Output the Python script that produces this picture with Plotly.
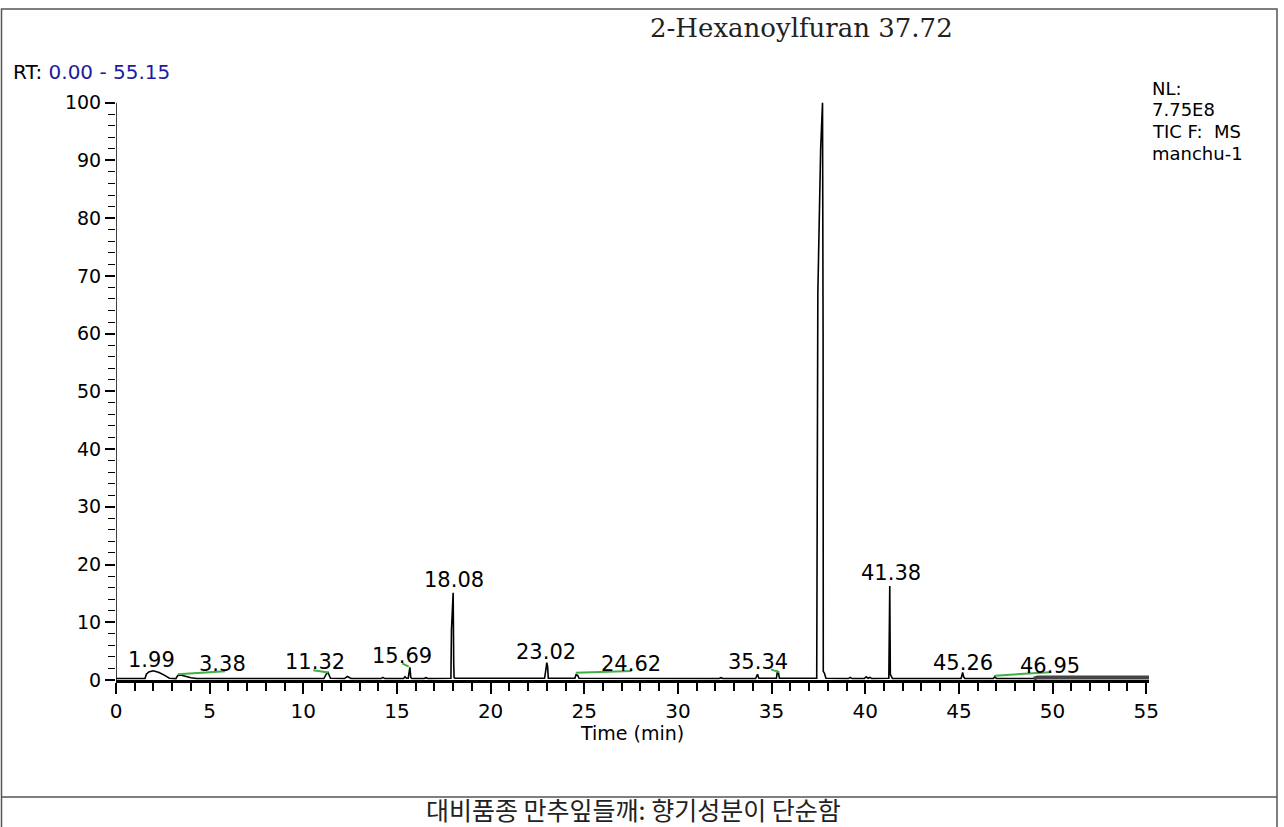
import plotly.graph_objects as go

# ---------------- data ----------------
time = [0.0, 1.55, 1.62, 1.75, 1.99, 2.3, 2.6, 2.85, 3.2, 3.3, 3.45, 3.7, 4.0, 4.3,
        11.1, 11.22, 11.32, 11.45, 12.2, 12.35, 12.55, 14.15, 14.25, 14.35,
        15.35, 15.43, 15.5, 15.6, 15.65, 15.69, 15.74, 15.8, 16.45, 16.55, 16.65,
        17.88, 17.91, 18.0, 18.03, 18.05, 18.1,
        22.88, 22.95, 23.0, 23.04, 23.08, 24.5, 24.56, 24.65, 24.72,
        32.2, 32.3, 32.4, 34.15, 34.25, 34.32, 35.26, 35.31, 35.36, 35.42,
        37.41, 37.43, 37.47, 37.62, 37.72, 37.75, 37.76, 37.82, 37.9,
        39.1, 39.2, 39.3, 39.95, 40.05, 40.15, 40.25, 40.35,
        41.26, 41.31, 41.34, 41.38, 41.45, 45.12, 45.2, 45.26, 45.32,
        46.85, 46.92, 47.0, 49.0, 49.2, 55.15]
intensity = [0.25, 0.25, 1.0, 1.4, 1.6, 1.3, 0.8, 0.3, 0.25, 0.8, 0.85, 0.6, 0.4, 0.25,
             0.25, 1.0, 1.3, 0.3, 0.25, 0.6, 0.25, 0.25, 0.45, 0.25,
             0.25, 0.55, 0.3, 0.3, 2.1, 2.2, 0.4, 0.25, 0.25, 0.4, 0.25,
             0.3, 8.7, 15.1, 3.0, 0.4, 0.3,
             0.3, 1.8, 3.0, 2.4, 0.3, 0.3, 0.9, 0.8, 0.3,
             0.25, 0.4, 0.25, 0.25, 1.0, 0.3, 0.3, 1.5, 1.4, 0.3,
             0.3, 20.0, 67.0, 92.0, 100.0, 60.0, 1.5, 1.2, 0.3,
             0.25, 0.45, 0.25, 0.25, 0.55, 0.3, 0.45, 0.25,
             0.3, 16.3, 1.0, 0.6, 0.25, 0.25, 1.3, 0.5, 0.25,
             0.25, 0.6, 0.25, 0.25, 0.45, 0.45]

# baseline (integration) marks drawn in green: start/end time and level
green_t0 = [3.30, 10.53, 15.28, 24.55, 34.97, 46.91]
green_v0 = [1.0, 1.7, 2.9, 1.27, 1.85, 0.75]
green_t1 = [5.83, 11.34, 15.63, 27.52, 35.42, 49.85]
green_v1 = [1.5, 1.3, 2.3, 1.56, 1.33, 1.33]

# peak labels: text and where the label text sits
label_text = ["1.99", "3.38", "11.32", "15.69", "18.08", "23.02", "24.62",
              "35.34", "37.72", "41.38", "45.26", "46.95"]
label_t = [1.87, 5.67, 10.62, 15.28, 18.05, 22.94, 27.47, 34.28, 37.70, 41.39, 45.22, 49.86]
label_v = [3.4, 2.8, 3.2, 4.2, 17.3, 4.9, 2.7, 3.1, 102.3, 18.5, 3.0, 2.4]

x_ticks = [0, 5, 10, 15, 20, 25, 30, 35, 40, 45, 50, 55]
y_ticks = [0, 10, 20, 30, 40, 50, 60, 70, 80, 90, 100]
x_range = [0.0, 55.15]
band_start = 49.0

# ---------------- layout geometry ----------------
W, H = 1284, 827
ML, MR, MT, MB = 116, 135, 94, 147
PW, PH = W - ML - MR, H - MT - MB


def px(p):
    """picture x pixel -> paper coordinate"""
    return (p - ML) / PW


def py(p):
    """picture y pixel -> paper coordinate"""
    return (H - MB - p) / PH


fig = go.Figure()

fig.add_trace(go.Scatter(x=time, y=intensity, mode="lines",
                         line=dict(color="black", width=1.6), hoverinfo="skip",
                         showlegend=False))
bt = [t for t in time if t >= band_start]
bv = [v for t, v in zip(time, intensity) if t >= band_start]
fig.add_trace(go.Scatter(x=bt, y=bv, mode="lines", hoverinfo="skip",
                         line=dict(color="#444444", width=4), showlegend=False))

gx, gy = [], []
for a, b, c, d in zip(green_t0, green_v0, green_t1, green_v1):
    gx += [a, c, None]
    gy += [b, d, None]
fig.add_trace(go.Scatter(x=gx, y=gy, mode="lines", hoverinfo="skip",
                         line=dict(color="#3cb043", width=2), showlegend=False))

annotations = []
for txt, t, v in zip(label_text, label_t, label_v):
    annotations.append(dict(x=t, y=v, xref="x", yref="y", text=txt, showarrow=False,
                            xanchor="center", yanchor="middle",
                            font=dict(family="DejaVu Sans", size=21, color="black")))

annotations.append(dict(x=px(801), y=py(28), xref="paper", yref="paper",
                        text="2-Hexanoylfuran 37.72", showarrow=False,
                        xanchor="center", yanchor="middle",
                        font=dict(family="DejaVu Serif", size=26, color="#222222")))
annotations.append(dict(x=px(11), y=py(72), xref="paper", yref="paper",
                        text="RT: <span style='color:#1c1ca0'>0.00 - 55.15</span>",
                        showarrow=False, xanchor="left", yanchor="middle",
                        font=dict(family="DejaVu Sans", size=20, color="black")))
for txt, yy in zip(["NL:", "7.75E8", "TIC F:  MS", "manchu-1"], [88, 109, 132, 153]):
    annotations.append(dict(x=px(1150), y=py(yy), xref="paper", yref="paper",
                            text=txt.replace("  ", "&nbsp;&nbsp;"), showarrow=False,
                            xanchor="left", yanchor="middle",
                            font=dict(family="DejaVu Sans", size=18, color="black")))
annotations.append(dict(x=px(632), y=py(733), xref="paper", yref="paper",
                        text="Time (min)", showarrow=False,
                        xanchor="center", yanchor="middle",
                        font=dict(family="DejaVu Sans", size=19, color="black")))
annotations.append(dict(x=px(633), y=py(809), xref="paper", yref="paper",
                        text="대비품종 만추잎들깨: 향기성분이 단순함", showarrow=False,
                        xanchor="center", yanchor="middle",
                        font=dict(family="Noto Sans CJK KR", size=25, color="#222222")))

shapes = [
    # outer frame
    dict(type="rect", xref="paper", yref="paper", x0=px(1.5), x1=px(1277),
         y0=py(860), y1=py(9), line=dict(color="#555555", width=1.5)),
    dict(type="line", xref="paper", yref="paper", x0=px(1.5), x1=px(1277),
         y0=py(797), y1=py(797), line=dict(color="#555555", width=1.5)),
    # y axis line
    dict(type="line", xref="x", yref="y", x0=0, x1=0, y0=0, y1=100,
         line=dict(color="black", width=1.5)),
]

fig.update_layout(
    width=W, height=H,
    margin=dict(l=ML, r=MR, t=MT, b=MB),
    paper_bgcolor="white", plot_bgcolor="white",
    annotations=annotations, shapes=shapes,
    xaxis=dict(range=x_range, tickvals=x_ticks, ticktext=[str(v) for v in x_ticks],
               showgrid=False, zeroline=False, showline=True, linecolor="black",
               linewidth=2.5, ticks="outside", ticklen=11, tickwidth=1.5,
               tickcolor="black",
               minor=dict(dtick=1, tick0=0, ticks="outside", ticklen=8,
                          tickwidth=1.5, tickcolor="black", showgrid=False),
               tickfont=dict(family="DejaVu Sans", size=20, color="black")),
    yaxis=dict(range=[0, 101.5], tickvals=y_ticks, ticktext=[str(v) for v in y_ticks],
               showgrid=False, zeroline=False, showline=False,
               ticks="outside", ticklen=10, tickwidth=1.5, tickcolor="black",
               minor=dict(dtick=2, tick0=0, ticks="outside", ticklen=7,
                          tickwidth=1.2, tickcolor="black", showgrid=False),
               tickfont=dict(family="DejaVu Sans", size=19, color="black")),
)

# remove the browser's default 8px page margin so the figure sits at the window corner
fig.write_html("out.html", config={"displayModeBar": False},
               post_script="document.body.style.margin='0px';document.body.style.overflow='hidden';")
